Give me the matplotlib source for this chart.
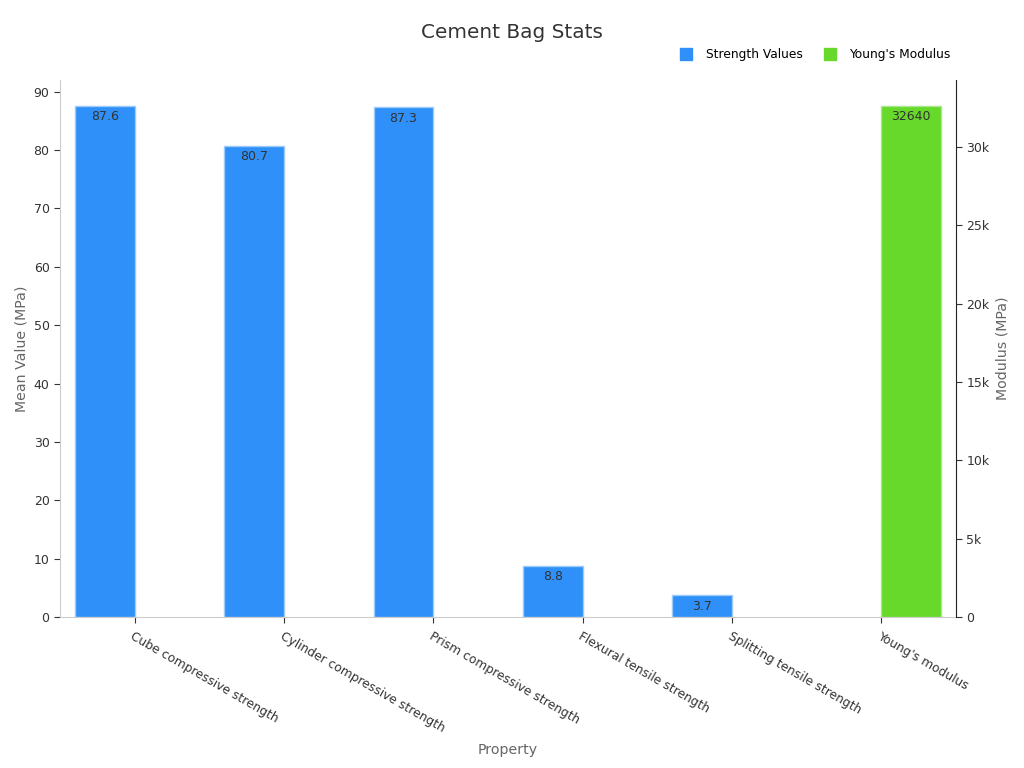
import matplotlib.pyplot as plt
from matplotlib.lines import Line2D
from matplotlib.ticker import FuncFormatter
from matplotlib.transforms import ScaledTranslation
import numpy as np

categories = ['Cube compressive strength', 'Cylinder compressive strength',
              'Prism compressive strength', 'Flexural tensile strength',
              'Splitting tensile strength', "Young's modulus"]
strength = [87.6, 80.7, 87.3, 8.8, 3.7, None]
modulus = [None, None, None, None, None, 32640]
strength_labels = ['87.6', '80.7', '87.3', '8.8', '3.7']
modulus_labels = ['32640']

blue = '#2E90F8'
green = '#66D92A'

fig = plt.figure(figsize=(10.24, 7.68), dpi=100)
ax = fig.add_axes([0.0586, 0.1966, 0.875, 0.6992])
ax2 = ax.twinx()

x = np.arange(len(categories))
w = 0.4

for i, v in enumerate(strength):
    if v is None:
        continue
    ax.bar(x[i] - w / 2, v, w, color=blue, edgecolor='#9CCBFB', linewidth=1)
    ax.annotate(strength_labels[i], (x[i] - w / 2, v), xytext=(0, -3),
                textcoords='offset points', ha='center', va='top',
                fontsize=9, color='#333333')

for i, v in enumerate(modulus):
    if v is None:
        continue
    ax2.bar(x[i] + w / 2, v, w, color=green, edgecolor='#A8E88A', linewidth=1)
    ax2.annotate(modulus_labels[0], (x[i] + w / 2, v), xytext=(0, -3),
                 textcoords='offset points', ha='center', va='top',
                 fontsize=9, color='#333333')

ax.set_xlim(-0.5, 5.5)
ax.set_ylim(0, 92)
ax2.set_ylim(0, 34270)
ax.set_yticks(range(0, 91, 10))
ax2.set_yticks(range(0, 30001, 5000))
ax2.yaxis.set_major_formatter(FuncFormatter(lambda v, p: '0' if v == 0 else '%dk' % (v / 1000)))

ax.set_xticks(x)
ax.set_xticklabels(categories, rotation=-30, ha='left', va='top',
                   rotation_mode='anchor', fontsize=8.8, color='#333333')
shift = ScaledTranslation(4 / 72, 0, fig.dpi_scale_trans)
for lbl in ax.get_xticklabels():
    lbl.set_transform(lbl.get_transform() + shift)

for a in (ax, ax2):
    a.spines['top'].set_visible(False)
    a.tick_params(labelsize=9, colors='#333333', length=4)
ax.tick_params(axis='x', labelsize=8.8, pad=5)
ax.spines['left'].set_color('#cccccc')
ax.spines['bottom'].set_color('#cccccc')
ax.spines['right'].set_visible(False)
ax2.spines['left'].set_visible(False)
ax2.spines['bottom'].set_visible(False)
ax2.spines['right'].set_color('#222222')

ax.set_ylabel('Mean Value (MPa)', fontsize=10.2, color='#666666')
ax2.set_ylabel('Modulus (MPa)', fontsize=10.2, color='#666666')
ax.set_xlabel('Property', fontsize=10.2, color='#666666', va='center')
ax.xaxis.set_label_coords(0.5, -0.248)

fig.suptitle('Cement Bag Stats', x=0.5, y=0.97, fontsize=14.4, color='#333333')

handles = [Line2D([], [], marker='s', linestyle='', color=blue, markersize=8),
           Line2D([], [], marker='s', linestyle='', color=green, markersize=8)]
fig.legend(handles, ['Strength Values', "Young's Modulus"], loc='center right',
           bbox_to_anchor=(0.939, 0.929), ncol=2, frameon=False, fontsize=8.8,
           handletextpad=0.6, columnspacing=1.2)

fig.savefig('out.png', dpi=100)
